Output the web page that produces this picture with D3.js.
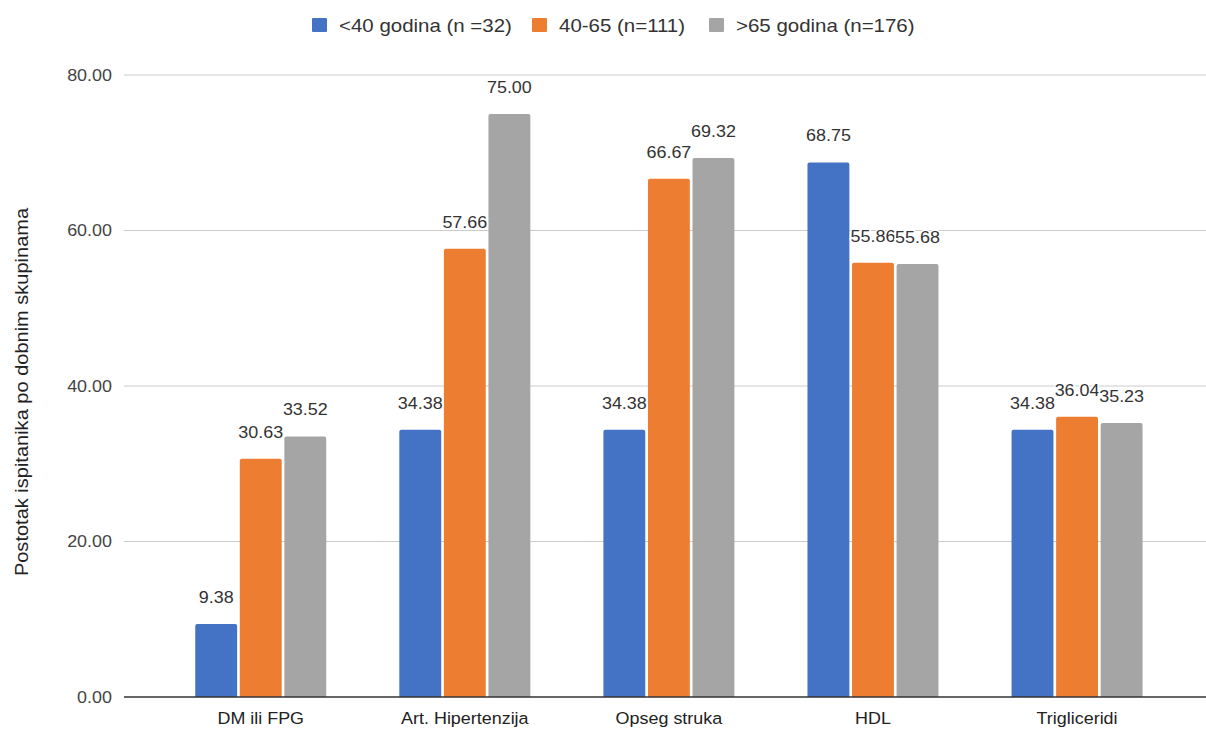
<!DOCTYPE html>
<html>
<head>
<meta charset="utf-8">
<script src="https://cdn.jsdelivr.net/npm/d3@7"></script>
<style>
  body { margin: 0; background: #fff; }
  svg { display: block; font-family: "Liberation Sans", Arial, sans-serif; }
</style>
</head>
<body>
<div id="chart"></div>
<script>
const categories = ['DM ili FPG', 'Art. Hipertenzija', 'Opseg struka', 'HDL', 'Trigliceridi'];
const seriesNames = ['<40 godina (n =32)', '40-65 (n=111)', '>65 godina (n=176)'];
const under40 = [9.38, 34.38, 34.38, 68.75, 34.38];
const from40to65 = [30.63, 57.66, 66.67, 55.86, 36.04];
const over65 = [33.52, 75.00, 69.32, 55.68, 35.23];
const yTicks = [0, 20, 40, 60, 80];
const colors = ['#4472c4', '#ed7d31', '#a5a5a5'];

const width = 1206;
const height = 729;
const margins = { left: 124, right: 0, top: 75, bottom: 32 };
// text in the original is slightly wider than plain Arial
const STRETCH = 1.1;

const seriesValues = [under40, from40to65, over65];
const rows = [];
categories.forEach((cat, i) => {
  seriesNames.forEach((name, j) => {
    rows.push({ cat, name, j, value: seriesValues[j][i] });
  });
});

const svg = d3.select('#chart')
  .append('svg')
    .attr('width', width)
    .attr('height', height);

const yScale = d3.scaleLinear()
  .domain([0, 80])
  .range([height - margins.bottom, margins.top]);

const x0 = d3.scaleBand()
  .domain(categories)
  .range([158.7, 1179.1]);

// group of three bars is ~131px wide, centred in each band
const groupW = 131;
const x1 = d3.scaleBand()
  .domain(seriesNames)
  .range([(x0.bandwidth() - groupW) / 2, (x0.bandwidth() + groupW) / 2])
  .paddingInner(0.06);

const place = (x, y) => `translate(${x},${y}) scale(${STRETCH},1)`;

// gridlines
svg.append('g')
  .selectAll('line')
  .data(yTicks.filter(d => d > 0))
  .join('line')
    .attr('x1', margins.left)
    .attr('x2', width - margins.right)
    .attr('y1', d => yScale(d))
    .attr('y2', d => yScale(d))
    .attr('stroke', '#cccccc')
    .attr('stroke-width', 1);

// y tick labels
svg.append('g')
  .selectAll('text')
  .data(yTicks)
  .join('text')
    .attr('transform', d => place(112, yScale(d)))
    .attr('dy', '0.35em')
    .attr('text-anchor', 'end')
    .attr('font-size', 16.3)
    .attr('fill', '#444444')
    .text(d => d3.format('.2f')(d));

// bars
svg.append('g')
  .selectAll('path')
  .data(rows)
  .join('path')
    .attr('fill', d => colors[d.j])
    .attr('d', d => {
      const x = x0(d.cat) + x1(d.name);
      const w = x1.bandwidth();
      const y = yScale(d.value);
      const b = yScale(0);
      const r = 2;
      return `M${x},${b}V${y + r}Q${x},${y} ${x + r},${y}H${x + w - r}Q${x + w},${y} ${x + w},${y + r}V${b}Z`;
    });

// baseline
svg.append('line')
  .attr('x1', margins.left)
  .attr('x2', width - margins.right)
  .attr('y1', yScale(0))
  .attr('y2', yScale(0))
  .attr('stroke', '#333333')
  .attr('stroke-width', 1.3);

// value labels (white halo, later ones overlap earlier ones like the original)
svg.append('g')
  .selectAll('text')
  .data(rows)
  .join('text')
    .attr('transform', d => place(x0(d.cat) + x1(d.name) + x1.bandwidth() / 2, yScale(d.value) - 21))
    .attr('text-anchor', 'middle')
    .attr('font-size', 16.3)
    .attr('fill', '#333333')
    .attr('stroke', '#ffffff')
    .attr('stroke-width', 3)
    .attr('paint-order', 'stroke')
    .text(d => d3.format('.2f')(d.value));

// category labels
svg.append('g')
  .selectAll('text')
  .data(categories)
  .join('text')
    .attr('transform', d => place(x0(d) + x0.bandwidth() / 2, 724))
    .attr('text-anchor', 'middle')
    .attr('font-size', 16.3)
    .attr('fill', '#222222')
    .text(d => d);

// y axis title
svg.append('text')
  .attr('transform', 'translate(28,392) rotate(-90) scale(1.1,1)')
  .attr('text-anchor', 'middle')
  .attr('font-size', 18.2)
  .attr('fill', '#222222')
  .text('Postotak ispitanika po dobnim skupinama');

// legend
const legendX = [312, 532, 709];
const legend = svg.append('g')
  .selectAll('g')
  .data(seriesNames)
  .join('g')
    .attr('transform', (d, i) => `translate(${legendX[i]},18)`);

legend.append('rect')
  .attr('width', 15)
  .attr('height', 14)
  .attr('rx', 1)
  .attr('fill', (d, i) => colors[i]);

legend.append('text')
  .attr('transform', place(27, 13.5))
  .attr('font-size', 18.6)
  .attr('fill', '#333333')
  .text(d => d);
</script>
</body>
</html>
